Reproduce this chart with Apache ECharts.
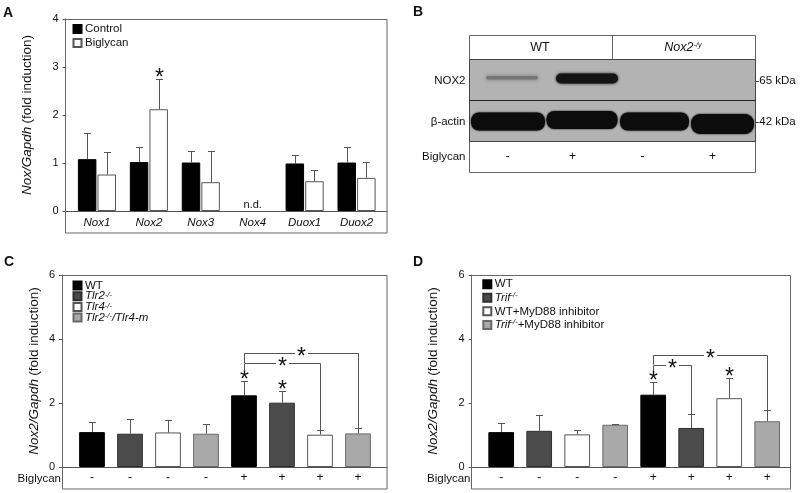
<!DOCTYPE html>
<html><head><meta charset="utf-8">
<script src="https://cdn.jsdelivr.net/npm/echarts@6/dist/echarts.min.js"></script>
<style>html,body{margin:0;padding:0;background:#fff}#c{width:800px;height:493px}</style>
</head><body><div id="c"></div><script>
// ---------- Panel A data ----------
const catsA = ['Nox1','Nox2','Nox3','Nox4','Duox1','Duox2'];
const controlA = [1.08, 1.02, 1.01, null, 0.99, 1.01];
const controlSdA = [0.55, 0.31, 0.24, null, 0.18, 0.32];
const biglycanA = [0.76, 2.12, 0.60, null, 0.62, 0.69];
const biglycanSdA = [0.46, 0.62, 0.65, null, 0.23, 0.34];
const starBiglycanA = [0, 1, 0, 0, 0, 0];
const notDetectedA = [0, 0, 0, 1, 0, 0];
const yTicksA = [0, 1, 2, 3, 4];
const seriesNamesA = ['Control', 'Biglycan'];

// ---------- Panel C data ----------
const groupsC = ['WT', 'Tlr2-/-', 'Tlr4-/-', 'Tlr2-/-/Tlr4-m'];
const groupOfBarC = [0, 1, 2, 3, 0, 1, 2, 3];
const treatC = ['-', '-', '-', '-', '+', '+', '+', '+'];
const meanC = [1.09, 1.04, 1.08, 1.04, 2.24, 2.01, 1.01, 1.05];
const sdC = [0.32, 0.45, 0.40, 0.30, 0.45, 0.37, 0.14, 0.18];
const starC = [0, 0, 0, 0, 1, 1, 0, 0];
const bracketsC = [[4, 3.56, 7, 3.25], [4, 3.25, 6, 3.0]]; // [from, level, to, leftEnd]
const yTicksC = [0, 2, 4, 6];

// ---------- Panel D data ----------
const groupsD = ['WT', 'Trif-/-', 'WT+MyD88 inhibitor', 'Trif-/-+MyD88 inhibitor'];
const groupOfBarD = [0, 1, 2, 3, 0, 1, 2, 3];
const treatD = ['-', '-', '-', '-', '+', '+', '+', '+'];
const meanD = [1.09, 1.13, 1.02, 1.32, 2.26, 1.22, 2.15, 1.43];
const sdD = [0.29, 0.51, 0.14, 0.03, 0.39, 0.44, 0.63, 0.34];
const starD = [0, 0, 0, 0, 1, 0, 1, 0];
const bracketsD = [[4, 3.49, 7, 3.2], [4, 3.2, 5, 3.0]];
const yTicksD = [0, 2, 4, 6];

// ---------- Panel B (western blot) labels ----------
const lanesB = ['-', '+', '-', '+'];
const genotypesB = ['WT', 'Nox2-/y'];
const blotsB = ['NOX2', 'β-actin'];
const markersB = ['65 kDa', '42 kDa'];

// ---------- styling ----------
const FONT = "'Liberation Sans', Arial, Helvetica, sans-serif";
const AX = '#555';
const FR = '#666';
const TXT = '#111';
const fills = ['#000000', '#4b4b4b', '#ffffff', '#a9a9a9'];
const borders = ['#000000', '#2e2e2e', '#555555', '#6a6a6a'];
const STAR_FS = 23;
const STAR_DY = 4.6;

function richName(name) {
  if (name === 'Control' || name === 'Biglycan') return '{n|' + name + '}';
  return name.split(/(-\/-)/).filter(s => s).map(s =>
    s === '-/-' ? '{s|' + s + '}' : (/^(WT|\+)/.test(s) ? '{n|' + s + '}' : '{i|' + s + '}')
  ).join('');
}
function legendText(lh) {
  return {
    fontSize: 11.5, color: TXT, lineHeight: lh, padding: [0, 0, 0, -1.5],
    rich: {
      n: {fontSize: 11.5, fontFamily: FONT, color: TXT, lineHeight: lh},
      i: {fontSize: 11.5, fontFamily: FONT, color: TXT, fontStyle: 'italic', lineHeight: lh},
      s: {fontSize: 7.5, fontFamily: FONT, color: TXT, fontStyle: 'italic', verticalAlign: 'top', lineHeight: 7}
    }
  };
}
function starText(x, cy) {
  return {type: 'text', x: x, y: cy + STAR_DY, silent: true,
    style: {text: '*', fontSize: STAR_FS, fontFamily: FONT, fill: TXT, align: 'center', verticalAlign: 'middle'}};
}
function errSeries(xi, means, sds, stars, offsetPx) {
  return {
    type: 'custom', xAxisIndex: xi, yAxisIndex: xi, z: 4, silent: true,
    data: means.map((m, i) => [i, m == null ? NaN : m, sds[i] == null ? 0 : sds[i], stars ? stars[i] : 0]),
    renderItem(params, api) {
      const i = api.value(0), m = api.value(1), sd = api.value(2), st = api.value(3);
      if (isNaN(m)) return null;
      const b = api.coord([i, m]), t = api.coord([i, m + sd]);
      const x = Math.round(b[0] + offsetPx) + 0.5;
      const ty = Math.round(t[1]) + 0.5;
      const ch = [
        {type: 'line', shape: {x1: x, y1: b[1], x2: x, y2: ty}, style: {stroke: AX, lineWidth: 1}},
        {type: 'line', shape: {x1: x - 3.5, y1: ty, x2: x + 3.5, y2: ty}, style: {stroke: AX, lineWidth: 1}}
      ];
      if (st) ch.push(starText(x, ty - 5.5));
      return {type: 'group', children: ch};
    }
  };
}
function bracketSeries(xi, brackets, means, sds) {
  return {
    type: 'custom', xAxisIndex: xi, yAxisIndex: xi, z: 4, silent: true,
    data: brackets,
    renderItem(params, api) {
      const from = api.value(0), lvl = api.value(1), to = api.value(2), leftEnd = api.value(3);
      const pL = api.coord([from, lvl]), pR = api.coord([to, lvl]);
      const pLb = api.coord([from, leftEnd]), pRb = api.coord([to, means[to] + sds[to]]);
      const y = Math.round(pL[1]) + 0.5;
      const xl = Math.round(pL[0]) + 0.5, xr = Math.round(pR[0]) + 0.5;
      const mid = (xl + xr) / 2, gap = 6.5;
      return {type: 'group', children: [
        {type: 'polyline', shape: {points: [[xl, pLb[1]], [xl, y], [mid - gap, y]]}, style: {stroke: AX, lineWidth: 1, fill: 'none'}},
        {type: 'polyline', shape: {points: [[mid + gap, y], [xr, y], [xr, Math.round(pRb[1]) + 0.5]]}, style: {stroke: AX, lineWidth: 1, fill: 'none'}},
        starText(mid, y)
      ]};
    }
  };
}
function ndSeries(xi, nd) {
  return {
    type: 'custom', xAxisIndex: xi, yAxisIndex: xi, z: 4, silent: true,
    data: nd.map((v, i) => [i, v]),
    renderItem(params, api) {
      if (!api.value(1)) return null;
      const p = api.coord([api.value(0), 0]);
      return {type: 'text', x: p[0], y: p[1] - 6,
        style: {text: 'n.d.', fontSize: 11, fontFamily: FONT, fill: TXT, align: 'center', verticalAlign: 'middle'}};
    }
  };
}
function yAxisOf(gi, ticks, offset, nameGap, nameRich) {
  return {
    type: 'value', gridIndex: gi, min: ticks[0], max: ticks[ticks.length - 1], interval: ticks[1] - ticks[0],
    offset: offset, splitLine: {show: false},
    axisLine: {show: true, lineStyle: {color: AX, width: 1}},
    axisTick: {show: true, length: 3, lineStyle: {color: AX}},
    axisLabel: {fontSize: 11, color: TXT, margin: 7, fontFamily: FONT},
    name: nameRich, nameLocation: 'middle', nameGap: nameGap, nameRotate: 90, nameMoveOverlap: false,
    nameTextStyle: {fontFamily: FONT, color: TXT, rich: {
      i: {fontStyle: 'italic', fontSize: 13.5, fontFamily: FONT, color: TXT},
      n: {fontSize: 13.5, fontFamily: FONT, color: TXT}
    }}
  };
}
function zeroAxes(gi) {
  return {
    x: {type: 'category', gridIndex: gi, data: [''], axisLine: {show: true, onZero: false, lineStyle: {color: AX}},
        axisTick: {show: false}, axisLabel: {show: false}, splitLine: {show: false}},
    y: {type: 'value', gridIndex: gi, min: 0, max: 1, show: false}
  };
}
const zA = zeroAxes(1), zC = zeroAxes(3), zD = zeroAxes(5);
const catsC = treatC.map((t, i) => groupsC[groupOfBarC[i]] + ' ' + t);
const catsD = treatD.map((t, i) => groupsD[groupOfBarD[i]] + ' ' + t);

const chart = echarts.init(document.getElementById('c'), null, {renderer: 'canvas', width: 800, height: 493});

const gridCommon = {outerBoundsMode: 'none', containLabel: false};
const option = {
  backgroundColor: '#ffffff',
  animation: false,
  textStyle: {fontFamily: FONT},
  grid: [
    Object.assign({left: 71, top: 19, width: 311.5, height: 192}, gridCommon),
    Object.assign({left: 65.5, top: 19, width: 321.5, height: 192}, gridCommon),
    Object.assign({left: 73, top: 275, width: 304, height: 192}, gridCommon),
    Object.assign({left: 62, top: 275, width: 325, height: 192}, gridCommon),
    Object.assign({left: 482.2, top: 275, width: 304, height: 192}, gridCommon),
    Object.assign({left: 471.7, top: 275, width: 319, height: 192}, gridCommon)
  ],
  xAxis: [
    {type: 'category', gridIndex: 0, data: catsA, axisLine: {show: false}, axisTick: {show: false},
     axisLabel: {fontSize: 11.5, fontStyle: 'italic', color: TXT, margin: 6, fontFamily: FONT, interval: 0}},
    zA.x,
    {type: 'category', gridIndex: 2, data: catsC, axisLine: {show: false}, axisTick: {show: false},
     axisLabel: {fontSize: 12, color: TXT, margin: 5, fontFamily: FONT, interval: 0, formatter: (v, i) => treatC[i]}},
    zC.x,
    {type: 'category', gridIndex: 4, data: catsD, axisLine: {show: false}, axisTick: {show: false},
     axisLabel: {fontSize: 12, color: TXT, margin: 5, fontFamily: FONT, interval: 0, formatter: (v, i) => treatD[i]}},
    zD.x
  ],
  yAxis: [
    yAxisOf(0, yTicksA, 5.5, 31, '{i|Nox/Gapdh} {n|(fold induction)}'),
    zA.y,
    yAxisOf(2, yTicksC, 11, 21, '{i|Nox2/Gapdh} {n|(fold induction)}'),
    zC.y,
    yAxisOf(4, yTicksD, 10.5, 31, '{i|Nox2/Gapdh} {n|(fold induction)}'),
    zD.y
  ],
  legend: [
    {data: seriesNamesA, orient: 'vertical', left: 72.5, top: 22, padding: 0, itemGap: 0, itemWidth: 8, itemHeight: 8,
     icon: 'rect', formatter: richName, selectedMode: false, textStyle: legendText(14)},
    {data: groupsC, orient: 'vertical', left: 72.5, top: 279.5, padding: 0, itemGap: -1.3, itemWidth: 8, itemHeight: 8,
     icon: 'rect', formatter: richName, selectedMode: false, textStyle: legendText(10.7)},
    {data: groupsD, orient: 'vertical', left: 482.3, top: 277.5, padding: 0, itemGap: 0.3, itemWidth: 8, itemHeight: 8,
     icon: 'rect', formatter: richName, selectedMode: false, textStyle: legendText(13.3)}
  ],
  series: [
    {type: 'bar', name: seriesNamesA[0], xAxisIndex: 0, yAxisIndex: 0, data: controlA, barWidth: 18.5, barGap: '6%',
     itemStyle: {color: '#000', borderColor: '#000', borderWidth: 1}, silent: true},
    {type: 'bar', name: seriesNamesA[1], xAxisIndex: 0, yAxisIndex: 0, data: biglycanA, barWidth: 18.5, barGap: '6%',
     itemStyle: {color: '#fff', borderColor: '#555', borderWidth: 1}, silent: true},
    errSeries(0, controlA, controlSdA, null, -9.8),
    errSeries(0, biglycanA, biglycanSdA, starBiglycanA, 9.8),
    ndSeries(0, notDetectedA),
    ...groupsC.map((g, gi) => ({type: 'bar', name: g, xAxisIndex: 2, yAxisIndex: 2, barWidth: 25.7, barGap: '-100%', silent: true,
      data: meanC.map((v, i) => groupOfBarC[i] === gi ? v : null),
      itemStyle: {color: fills[gi], borderColor: borders[gi], borderWidth: 1}})),
    errSeries(2, meanC, sdC, starC, 0),
    bracketSeries(2, bracketsC, meanC, sdC),
    ...groupsD.map((g, gi) => ({type: 'bar', name: g, xAxisIndex: 4, yAxisIndex: 4, barWidth: 25.7, barGap: '-100%', silent: true,
      data: meanD.map((v, i) => groupOfBarD[i] === gi ? v : null),
      itemStyle: {color: fills[gi], borderColor: borders[gi], borderWidth: 1}})),
    errSeries(4, meanD, sdD, starD, 0),
    bracketSeries(4, bracketsD, meanD, sdD)
  ],
  graphic: []
};

// frames and panel letters
const G = option.graphic;
function frame(x, y, w, h) {
  G.push({type: 'rect', silent: true, z: 10, shape: {x: x, y: y, width: w, height: h}, style: {fill: 'none', stroke: FR, lineWidth: 1}});
}
function txt(x, y, text, o) {
  G.push({type: 'text', silent: true, z: 12, x: x, y: y,
    style: Object.assign({text: text, fontSize: 12, fontFamily: FONT, fill: TXT, align: 'center', verticalAlign: 'middle'}, o || {})});
}
frame(65.5, 19.5, 321.5, 213.5);
frame(62.5, 275.5, 324.5, 213.5);
frame(471.5, 275.5, 319, 213.5);
txt(3, 13, 'A', {fontSize: 14, fontWeight: 'bold', align: 'left'});
txt(413, 12, 'B', {fontSize: 14, fontWeight: 'bold', align: 'left'});
txt(4, 262, 'C', {fontSize: 14, fontWeight: 'bold', align: 'left'});
txt(413, 262, 'D', {fontSize: 14, fontWeight: 'bold', align: 'left'});
txt(61, 478.5, 'Biglycan', {align: 'right', fontSize: 11.5});
txt(470.5, 478.5, 'Biglycan', {align: 'right', fontSize: 11.5});

// ----- Panel B: blot -----
const BX0 = 469.5, BX1 = 755.5;
G.push({type: 'rect', silent: true, z: 5, shape: {x: BX0, y: 35.5, width: BX1 - BX0, height: 137}, style: {fill: '#fff', stroke: FR, lineWidth: 1}});
G.push({type: 'rect', silent: true, z: 6, shape: {x: BX0, y: 59.5, width: BX1 - BX0, height: 82}, style: {fill: '#b3b3b3', stroke: '#444', lineWidth: 1}});
G.push({type: 'line', silent: true, z: 9, shape: {x1: BX0, y1: 100.5, x2: BX1, y2: 100.5}, style: {stroke: '#222', lineWidth: 1}});
G.push({type: 'line', silent: true, z: 9, shape: {x1: 612.5, y1: 35.5, x2: 612.5, y2: 59.5}, style: {stroke: FR, lineWidth: 1}});
function band(x, y, w, h, r, color, blur) {
  G.push({type: 'rect', silent: true, z: 7, shape: {x: x, y: y, width: w, height: h, r: r},
    style: {fill: color, shadowBlur: blur, shadowColor: color}});
}
band(486, 76, 52, 3.5, 1.7, '#757575', 4);
band(556, 73.5, 62, 10, 5, '#141414', 3);
band(471, 112.5, 74, 18, 8, '#0c0c0c', 2);
band(546.5, 111, 71, 18, 8, '#0c0c0c', 2);
band(620, 112.5, 69, 18, 8, '#0c0c0c', 2);
band(691, 114, 63, 20, 9, '#0c0c0c', 2);
txt(540, 48, genotypesB[0], {fontSize: 12.5});
G.push({type: 'text', silent: true, z: 12, x: 683, y: 48, style: {
  text: '{i|Nox2}{s|-/y}', fontFamily: FONT, align: 'center', verticalAlign: 'middle',
  rich: {i: {fontSize: 12.5, fontStyle: 'italic', fill: TXT, fontFamily: FONT, lineHeight: 14},
         s: {fontSize: 7.5, fontStyle: 'italic', fill: TXT, fontFamily: FONT, verticalAlign: 'top', lineHeight: 7}}}});
txt(465.5, 81, blotsB[0], {align: 'right', fontSize: 11.5});
txt(465.5, 121.5, blotsB[1], {align: 'right', fontSize: 11.5});
txt(465.5, 156.5, 'Biglycan', {align: 'right', fontSize: 11.5});
txt(755.5, 81, '-' + markersB[0], {align: 'left', fontSize: 11.5});
txt(755.5, 121.5, '-' + markersB[1], {align: 'left', fontSize: 11.5});
const laneX = [507.5, 572.5, 642.5, 712.5];
lanesB.forEach((s, i) => txt(laneX[i], 156.5, s, {fontSize: 12}));

chart.setOption(option);
</script></body></html>
